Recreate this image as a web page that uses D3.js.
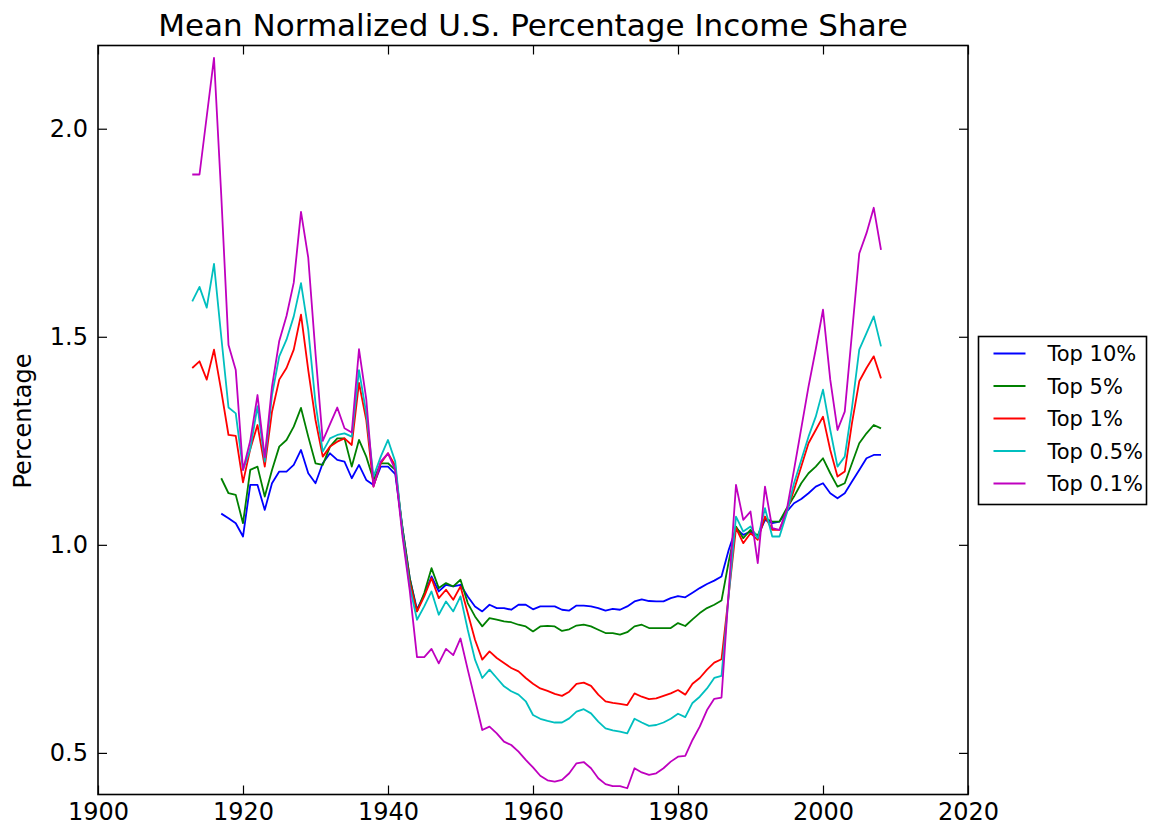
<!DOCTYPE html>
<html>
<head>
<meta charset="utf-8">
<script src="https://cdn.jsdelivr.net/npm/d3@7"></script>
<style>
  body { margin: 0; background: #fff; }
  svg text { font-family: "DejaVu Sans", sans-serif; fill: #000; }
</style>
</head>
<body>
<svg id="chart"></svg>
<script>
// years for the two broader groups start later
const yearsLong = d3.range(1913, 2009);
const yearsShort = d3.range(1917, 2009);

const top10 = [1.075, 1.064, 1.052, 1.02, 1.144, 1.144, 1.084, 1.148, 1.176, 1.176,
  1.192, 1.228, 1.172, 1.148, 1.196, 1.22, 1.204, 1.2, 1.16, 1.192,
  1.156, 1.144, 1.188, 1.188, 1.17, 1.04, 0.92, 0.845, 0.88, 0.924,
  0.888, 0.904, 0.9, 0.904, 0.876, 0.852, 0.84, 0.856, 0.848, 0.848,
  0.844, 0.856, 0.856, 0.845, 0.852, 0.852, 0.852, 0.844, 0.842, 0.854,
  0.854, 0.852, 0.848, 0.842, 0.846, 0.844, 0.852, 0.864, 0.869, 0.865,
  0.864, 0.864, 0.872, 0.877, 0.874, 0.885, 0.896, 0.906, 0.914, 0.924,
  0.988, 1.04, 1.024, 1.032, 1.02, 1.06, 1.052, 1.056, 1.08, 1.1,
  1.11, 1.124, 1.14, 1.148, 1.124, 1.112, 1.124, 1.152, 1.18, 1.208,
  1.216, 1.216];

const top5 = [1.16, 1.124, 1.12, 1.052, 1.18, 1.188, 1.116, 1.18, 1.236, 1.252,
  1.284, 1.329, 1.26, 1.196, 1.192, 1.236, 1.256, 1.256, 1.188, 1.252,
  1.212, 1.156, 1.196, 1.196, 1.18, 1.04, 0.92, 0.84, 0.884, 0.944,
  0.896, 0.908, 0.9, 0.916, 0.86, 0.828, 0.804, 0.824, 0.82, 0.816,
  0.814, 0.808, 0.804, 0.792, 0.804, 0.805, 0.804, 0.793, 0.797, 0.806,
  0.808, 0.804, 0.796, 0.788, 0.788, 0.784, 0.79, 0.804, 0.808, 0.8,
  0.8, 0.8, 0.8, 0.812, 0.805, 0.821, 0.836, 0.848, 0.856, 0.866,
  0.96, 1.044, 1.016, 1.036, 1.022, 1.064, 1.056, 1.056, 1.088, 1.116,
  1.148, 1.172, 1.188, 1.208, 1.172, 1.14, 1.148, 1.196, 1.244, 1.268,
  1.288, 1.28];

const top1 = [1.425, 1.441, 1.397, 1.469, 1.37, 1.264, 1.262, 1.15, 1.23, 1.288,
  1.188, 1.32, 1.397, 1.425, 1.469, 1.553, 1.42, 1.3, 1.212, 1.236,
  1.248, 1.256, 1.24, 1.389, 1.3, 1.14, 1.196, 1.22, 1.19, 1.03,
  0.91, 0.84, 0.876, 0.92, 0.872, 0.892, 0.868, 0.9, 0.836, 0.772,
  0.724, 0.744, 0.728, 0.716, 0.704, 0.696, 0.68, 0.666, 0.655, 0.649,
  0.642, 0.637, 0.647, 0.666, 0.669, 0.661, 0.64, 0.624, 0.62, 0.618,
  0.615, 0.643, 0.635, 0.629, 0.631, 0.637, 0.643, 0.651, 0.64, 0.666,
  0.68, 0.7, 0.717, 0.725, 0.88, 1.04, 1.004, 1.028, 1.012, 1.068,
  1.036, 1.036, 1.08, 1.132, 1.188, 1.244, 1.276, 1.308, 1.228, 1.164,
  1.176, 1.293, 1.393, 1.425, 1.453, 1.4];

const top05 = [1.585, 1.62, 1.57, 1.675, 1.5, 1.33, 1.316, 1.18, 1.23, 1.333,
  1.2, 1.36, 1.453, 1.493, 1.549, 1.629, 1.517, 1.34, 1.224, 1.256,
  1.264, 1.268, 1.26, 1.42, 1.316, 1.164, 1.212, 1.252, 1.2, 1.03,
  0.9, 0.82, 0.852, 0.888, 0.832, 0.864, 0.84, 0.876, 0.796, 0.724,
  0.68, 0.7, 0.68, 0.66, 0.648, 0.64, 0.624, 0.591, 0.582, 0.577,
  0.573, 0.573, 0.583, 0.599, 0.605, 0.595, 0.575, 0.559, 0.554, 0.551,
  0.547, 0.582, 0.573, 0.565, 0.567, 0.573, 0.582, 0.594, 0.586, 0.62,
  0.635, 0.655, 0.68, 0.685, 0.88, 1.068, 1.032, 1.044, 1.016, 1.088,
  1.02, 1.02, 1.076, 1.148, 1.204, 1.26, 1.308, 1.373, 1.276, 1.188,
  1.212, 1.33, 1.469, 1.509, 1.549, 1.477];

const top01 = [1.89, 1.89, 2.03, 2.17, 1.84, 1.48, 1.42, 1.18, 1.25, 1.36,
  1.21, 1.38, 1.49, 1.55, 1.63, 1.8, 1.69, 1.46, 1.25, 1.29,
  1.33, 1.28, 1.27, 1.47, 1.35, 1.14, 1.2, 1.22, 1.18, 1.02,
  0.89, 0.73, 0.73, 0.75, 0.715, 0.75, 0.735, 0.775, 0.7, 0.628,
  0.555, 0.563, 0.547, 0.527, 0.519, 0.503, 0.483, 0.465, 0.445, 0.434,
  0.431, 0.435, 0.451, 0.475, 0.478, 0.463, 0.439, 0.425, 0.42, 0.42,
  0.415, 0.463, 0.453, 0.447, 0.451, 0.463, 0.479, 0.491, 0.493, 0.531,
  0.563, 0.603, 0.63, 0.633, 0.89, 1.144, 1.06, 1.08, 0.956, 1.14,
  1.04, 1.036, 1.084, 1.18, 1.28, 1.38, 1.47, 1.565, 1.397, 1.276,
  1.32, 1.509, 1.7, 1.749, 1.81, 1.709];

const seriesNames = ["Top 10%", "Top 5%", "Top 1%", "Top 0.5%", "Top 0.1%"];
const seriesColors = ["#0000ff", "#008000", "#ff0000", "#00bfbf", "#bf00bf"];
const xTicks = [1900, 1920, 1940, 1960, 1980, 2000, 2020];
const yTicks = [0.5, 1.0, 1.5, 2.0];

const series = [
  { name: seriesNames[0], years: yearsShort, values: top10 },
  { name: seriesNames[1], years: yearsShort, values: top5 },
  { name: seriesNames[2], years: yearsLong, values: top1 },
  { name: seriesNames[3], years: yearsLong, values: top05 },
  { name: seriesNames[4], years: yearsLong, values: top01 }
];

const W = 1151, H = 828;
const plotLeft = 98, plotRight = 968, plotTop = 45.5, plotBottom = 794.5;

const svg = d3.select("#chart").attr("width", W).attr("height", H);

const x = d3.scaleLinear().domain([1900, 2020]).range([plotLeft, plotRight]);
const y = d3.scaleLinear().domain([0.4, 2.2]).range([plotBottom, plotTop]);

// lines
const line = d3.line()
  .x(d => x(d[0]))
  .y(d => y(d[1]));

svg.append("g")
  .selectAll("path")
  .data(series)
  .join("path")
    .attr("d", s => line(s.years.map((yr, i) => [yr, s.values[i]])))
    .attr("fill", "none")
    .attr("stroke", (s, i) => seriesColors[i])
    .attr("stroke-width", 1.8)
    .attr("stroke-linejoin", "round");

// axes, ticks pointing inward on all four sides
const fmtY = d3.format(".1f");

svg.append("g")
  .attr("transform", `translate(0,${plotBottom})`)
  .call(d3.axisBottom(x).tickValues(xTicks).tickFormat(d3.format("d")).tickSize(-9).tickPadding(8))
  .call(g => g.select(".domain").remove())
  .selectAll("text").style("font-size", "24px");

svg.append("g")
  .attr("transform", `translate(0,${plotTop})`)
  .call(d3.axisTop(x).tickValues(xTicks).tickFormat("").tickSize(-9))
  .call(g => g.select(".domain").remove());

svg.append("g")
  .attr("transform", `translate(${plotLeft},0)`)
  .call(d3.axisLeft(y).tickValues(yTicks).tickFormat(fmtY).tickSize(-9).tickPadding(10))
  .call(g => g.select(".domain").remove())
  .selectAll("text").style("font-size", "24px");

svg.append("g")
  .attr("transform", `translate(${plotRight},0)`)
  .call(d3.axisRight(y).tickValues(yTicks).tickFormat("").tickSize(-9))
  .call(g => g.select(".domain").remove());

svg.selectAll(".tick line").attr("stroke", "#000").attr("stroke-width", 1.2);

// frame
svg.append("rect")
  .attr("x", plotLeft).attr("y", plotTop)
  .attr("width", plotRight - plotLeft).attr("height", plotBottom - plotTop)
  .attr("fill", "none").attr("stroke", "#000").attr("stroke-width", 1.6);

// title and y label
svg.append("text")
  .attr("x", (plotLeft + plotRight) / 2).attr("y", 36)
  .attr("text-anchor", "middle")
  .style("font-size", "31px")
  .text("Mean Normalized U.S. Percentage Income Share");

svg.append("text")
  .attr("transform", "translate(31,421) rotate(-90)")
  .attr("text-anchor", "middle")
  .style("font-size", "24px")
  .text("Percentage");

// legend
const legend = svg.append("g").attr("transform", "translate(978.5,336.5)");
legend.append("rect")
  .attr("width", 168).attr("height", 168)
  .attr("fill", "#fff").attr("stroke", "#000").attr("stroke-width", 1.6);

const rows = legend.selectAll("g.row")
  .data(seriesNames)
  .join("g")
    .attr("class", "row")
    .attr("transform", (d, i) => `translate(0,${17 + i * 32.5})`);

rows.append("line")
  .attr("x1", 15).attr("x2", 47)
  .attr("stroke", (d, i) => seriesColors[i])
  .attr("stroke-width", 1.8);

rows.append("text")
  .attr("x", 69).attr("dy", "0.36em")
  .style("font-size", "21px")
  .text(d => d);
</script>
</body>
</html>
